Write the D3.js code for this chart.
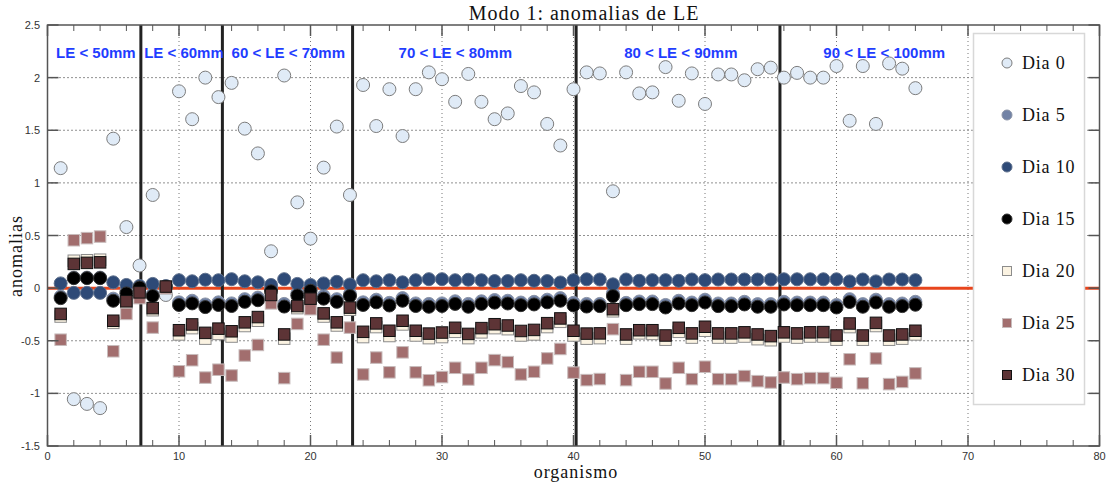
<!DOCTYPE html>
<html>
<head>
<meta charset="utf-8">
<script src="https://cdn.jsdelivr.net/npm/d3@7"></script>
<style>
  html, body { margin: 0; padding: 0; background: #fff; }
  svg { display: block; }
</style>
</head>
<body>
<svg id="chart" width="1107" height="486"></svg>
<script>
// Organism index 1..66
const organisms = d3.range(1, 67);

// Anomaly values per sampling day
const dia0 = [1.14, -1.055, -1.10, -1.14, 1.42, 0.58, 0.215, 0.885, -0.065, 1.87,
  1.605, 2.0, 1.815, 1.95, 1.515, 1.28, 0.35, 2.02, 0.815, 0.47,
  1.145, 1.535, 0.885, 1.93, 1.54, 1.89, 1.445, 1.89, 2.05, 1.985,
  1.77, 2.035, 1.77, 1.605, 1.66, 1.92, 1.86, 1.56, 1.355, 1.89,
  2.05, 2.04, 0.92, 2.05, 1.85, 1.86, 2.10, 1.78, 2.04, 1.75,
  2.03, 2.03, 1.975, 2.08, 2.095, 2.0, 2.045, 2.0, 2.0, 2.11,
  1.59, 2.11, 1.56, 2.135, 2.085, 1.90];

const dia5 = [-0.08, 0.10, 0.10, 0.10, -0.10, -0.03, 0.015, -0.06, 0.015, -0.135,
  -0.12, -0.155, -0.135, -0.145, -0.105, -0.09, -0.01, -0.15, -0.05, -0.01,
  -0.075, -0.105, -0.055, -0.135, -0.11, -0.14, -0.095, -0.145, -0.15, -0.145,
  -0.125, -0.15, -0.125, -0.113, -0.12, -0.137, -0.13, -0.11, -0.095, -0.14,
  -0.15, -0.15, -0.05, -0.14, -0.127, -0.127, -0.16, -0.12, -0.137, -0.11,
  -0.146, -0.146, -0.13, -0.152, -0.152, -0.13, -0.137, -0.137, -0.137, -0.16,
  -0.105, -0.152, -0.11, -0.152, -0.146, -0.13];

const dia10 = [0.045, -0.045, -0.045, -0.045, 0.055, 0.03, 0.02, 0.04, 0.02, 0.075,
  0.065, 0.08, 0.075, 0.085, 0.065, 0.055, 0.03, 0.085, 0.04, 0.03,
  0.045, 0.06, 0.035, 0.075, 0.065, 0.075, 0.055, 0.075, 0.085, 0.085,
  0.075, 0.08, 0.075, 0.067, 0.067, 0.075, 0.07, 0.067, 0.054, 0.076,
  0.084, 0.082, 0.036, 0.082, 0.07, 0.076, 0.076, 0.07, 0.082, 0.076,
  0.082, 0.082, 0.082, 0.082, 0.082, 0.084, 0.084, 0.084, 0.084, 0.084,
  0.064, 0.082, 0.064, 0.082, 0.082, 0.076];

const dia15 = [-0.095, 0.095, 0.095, 0.095, -0.12, -0.05, 0.005, -0.075, 0.01, -0.16,
  -0.145, -0.18, -0.16, -0.17, -0.13, -0.115, -0.03, -0.175, -0.07, -0.025,
  -0.10, -0.13, -0.075, -0.16, -0.135, -0.165, -0.12, -0.17, -0.177, -0.17,
  -0.15, -0.177, -0.15, -0.138, -0.146, -0.162, -0.155, -0.135, -0.12, -0.165,
  -0.175, -0.171, -0.076, -0.162, -0.152, -0.152, -0.184, -0.146, -0.162, -0.136,
  -0.171, -0.171, -0.155, -0.177, -0.177, -0.155, -0.162, -0.162, -0.162, -0.184,
  -0.132, -0.177, -0.136, -0.177, -0.171, -0.158];

const dia20 = [-0.27, 0.26, 0.265, 0.27, -0.33, -0.14, -0.05, -0.21, 0.0, -0.44,
  -0.38, -0.48, -0.435, -0.46, -0.36, -0.31, -0.09, -0.48, -0.19, -0.11,
  -0.27, -0.355, -0.205, -0.465, -0.37, -0.455, -0.345, -0.45, -0.475, -0.465,
  -0.415, -0.475, -0.42, -0.38, -0.39, -0.45, -0.44, -0.37, -0.32, -0.45,
  -0.48, -0.475, -0.22, -0.48, -0.43, -0.435, -0.49, -0.415, -0.47, -0.405,
  -0.47, -0.47, -0.46, -0.485, -0.495, -0.46, -0.47, -0.46, -0.46, -0.49,
  -0.37, -0.49, -0.36, -0.49, -0.48, -0.44];

const dia25 = [-0.49, 0.455, 0.475, 0.49, -0.60, -0.245, -0.095, -0.375, 0.0, -0.79,
  -0.685, -0.85, -0.775, -0.83, -0.64, -0.54, -0.145, -0.855, -0.34, -0.20,
  -0.49, -0.66, -0.375, -0.82, -0.66, -0.80, -0.61, -0.80, -0.875, -0.845,
  -0.757, -0.868, -0.757, -0.684, -0.703, -0.82, -0.795, -0.668, -0.578, -0.803,
  -0.874, -0.864, -0.39, -0.874, -0.795, -0.795, -0.906, -0.757, -0.865, -0.747,
  -0.865, -0.865, -0.836, -0.884, -0.896, -0.849, -0.865, -0.855, -0.855, -0.90,
  -0.676, -0.904, -0.668, -0.912, -0.891, -0.81];

const dia30 = [-0.245, 0.23, 0.24, 0.245, -0.31, -0.125, -0.04, -0.19, 0.015, -0.40,
  -0.345, -0.425, -0.385, -0.41, -0.325, -0.275, -0.065, -0.44, -0.17, -0.10,
  -0.24, -0.325, -0.185, -0.415, -0.335, -0.405, -0.31, -0.405, -0.432, -0.422,
  -0.377, -0.435, -0.38, -0.343, -0.355, -0.407, -0.397, -0.333, -0.288, -0.405,
  -0.432, -0.43, -0.20, -0.44, -0.40, -0.40, -0.45, -0.377, -0.43, -0.367,
  -0.43, -0.43, -0.42, -0.44, -0.456, -0.42, -0.43, -0.42, -0.418, -0.45,
  -0.336, -0.45, -0.33, -0.45, -0.44, -0.405];

const seriesNames = ["Dia 0", "Dia 5", "Dia 10", "Dia 15", "Dia 20", "Dia 25", "Dia 30"];
const seriesValues = [dia0, dia5, dia10, dia15, dia20, dia25, dia30];

// Length-class boundaries (organism index) and their labels
const boundaries = [7.1, 13.3, 23.2, 40.2, 55.7];
const classLabels = ["LE < 50mm", "LE < 60mm", "60 < LE < 70mm", "70 < LE < 80mm", "80 < LE < 90mm", "90 < LE < 100mm"];
const classLabelX = [0.65, 7.35, 14.0, 26.7, 43.85, 59.0];

// Axis ticks
const xTicks = [0, 10, 20, 30, 40, 50, 60, 70, 80];
const xMinorTicks = d3.range(0, 81, 2);
const yTicks = [-1.5, -1, -0.5, 0, 0.5, 1, 1.5, 2, 2.5];

// Marker styles per series
const styles = [
  { shape: "circle", fill: "#e0ebf7", stroke: "#7c7c7c" },
  { shape: "circle", fill: "#7283a6", stroke: "#8a93a6" },
  { shape: "circle", fill: "#2e4a77", stroke: "#5d6f8c" },
  { shape: "circle", fill: "#000000", stroke: "#333333" },
  { shape: "square", fill: "#fbf3e2", stroke: "#8c8c8c" },
  { shape: "square", fill: "#a26e6e", stroke: "#c8bcbc" },
  { shape: "square", fill: "#5d3436", stroke: "#111111" }
];

const svg = d3.select("#chart");
const plotL = 47.5, plotR = 1099.5, plotT = 25, plotB = 446;

const x = d3.scaleLinear().domain([0, 80]).range([plotL, plotR]);
const y = d3.scaleLinear().domain([-1.5, 2.5]).range([plotB, plotT]);

// Grid
const grid = svg.append("g");
grid.selectAll("line.h").data(yTicks.filter(v => v > -1.5 && v < 2.5))
  .join("line")
  .attr("x1", plotL).attr("x2", plotR)
  .attr("y1", d => y(d)).attr("y2", d => y(d))
  .attr("stroke", "#222").attr("stroke-width", 1)
  .attr("stroke-dasharray", "1,3");
grid.selectAll("line.v").data(xTicks.filter(v => v > 0 && v < 80))
  .join("line")
  .attr("x1", d => x(d)).attr("x2", d => x(d))
  .attr("y1", plotT).attr("y2", plotB)
  .attr("stroke", "#777").attr("stroke-width", 1)
  .attr("stroke-dasharray", "1,3");

// Zero reference line
svg.append("line")
  .attr("x1", plotL).attr("x2", plotR)
  .attr("y1", y(0)).attr("y2", y(0))
  .attr("stroke", "#e8451c").attr("stroke-width", 3);

// Length-class separators
svg.append("g").selectAll("line").data(boundaries)
  .join("line")
  .attr("x1", d => x(d)).attr("x2", d => x(d))
  .attr("y1", plotT).attr("y2", plotB)
  .attr("stroke", "#222").attr("stroke-width", 3);

// Markers
const r = 6.5, sq = 11.5;
seriesValues.forEach((vals, k) => {
  const st = styles[k];
  const g = svg.append("g");
  const pts = organisms.map((o, i) => ({ o, v: vals[i] }));
  if (st.shape === "circle") {
    g.selectAll("circle").data(pts).join("circle")
      .attr("cx", d => x(d.o)).attr("cy", d => y(d.v)).attr("r", r)
      .attr("fill", st.fill).attr("stroke", st.stroke).attr("stroke-width", 1);
  } else {
    g.selectAll("rect").data(pts).join("rect")
      .attr("x", d => x(d.o) - sq / 2).attr("y", d => y(d.v) - sq / 2)
      .attr("width", sq).attr("height", sq)
      .attr("fill", st.fill).attr("stroke", st.stroke).attr("stroke-width", 1);
  }
});

// Length-class labels
svg.append("g").selectAll("text").data(classLabels)
  .join("text")
  .attr("x", (d, i) => x(classLabelX[i]))
  .attr("y", y(2.185))
  .attr("font-family", "Liberation Sans, Arial, sans-serif")
  .attr("font-weight", "bold")
  .attr("font-size", 15)
  .attr("fill", "#1f3dff")
  .text(d => d);

// Frame and ticks
const axisColor = "#555";
svg.append("rect")
  .attr("x", plotL).attr("y", plotT)
  .attr("width", plotR - plotL).attr("height", plotB - plotT)
  .attr("fill", "none").attr("stroke", axisColor).attr("stroke-width", 1.5);

const ticks = svg.append("g").attr("stroke", axisColor);
xMinorTicks.forEach(v => {
  const len = v % 10 === 0 ? 11 : 6;
  const w = v % 10 === 0 ? 1.5 : 1;
  ticks.append("line").attr("x1", x(v)).attr("x2", x(v)).attr("y1", plotB).attr("y2", plotB - len).attr("stroke-width", w);
  ticks.append("line").attr("x1", x(v)).attr("x2", x(v)).attr("y1", plotT).attr("y2", plotT + len).attr("stroke-width", w);
});
yTicks.forEach(v => {
  ticks.append("line").attr("x1", plotL).attr("x2", plotL + 11).attr("y1", y(v)).attr("y2", y(v)).attr("stroke-width", 1.5);
  ticks.append("line").attr("x1", plotR).attr("x2", plotR - 11).attr("y1", y(v)).attr("y2", y(v)).attr("stroke-width", 1.5);
});

// Tick labels
svg.append("g").selectAll("text").data(xTicks)
  .join("text")
  .attr("x", d => x(d)).attr("y", 460)
  .attr("text-anchor", "middle")
  .attr("font-family", "Liberation Sans, Arial, sans-serif")
  .attr("font-size", 11).attr("fill", "#333")
  .text(d => d);
svg.append("g").selectAll("text").data(yTicks)
  .join("text")
  .attr("x", 40).attr("y", d => y(d) + 4)
  .attr("text-anchor", "end")
  .attr("font-family", "Liberation Sans, Arial, sans-serif")
  .attr("font-size", 11).attr("fill", "#333")
  .text(d => d);

// Legend
const lg = svg.append("g");
lg.append("rect")
  .attr("x", 973.5).attr("y", 33.5).attr("width", 111).attr("height", 371)
  .attr("fill", "#fff").attr("stroke", "#d8d8d8").attr("stroke-width", 1.5);
seriesNames.forEach((name, k) => {
  const st = styles[k];
  const cy = 63 + k * 52;
  if (st.shape === "circle") {
    lg.append("circle").attr("cx", 1007).attr("cy", cy).attr("r", 5)
      .attr("fill", st.fill).attr("stroke", st.stroke).attr("stroke-width", 1);
  } else {
    lg.append("rect").attr("x", 1007 - 4.5).attr("y", cy - 4.5).attr("width", 9).attr("height", 9)
      .attr("fill", st.fill).attr("stroke", st.stroke).attr("stroke-width", 1);
  }
  lg.append("text").attr("x", 1022).attr("y", cy + 6)
    .attr("font-family", "Liberation Serif, Times New Roman, serif")
    .attr("font-size", 18).attr("letter-spacing", 0.8).attr("fill", "#111")
    .text(name);
});

// Titles
svg.append("text")
  .attr("x", 584).attr("y", 20)
  .attr("text-anchor", "middle")
  .attr("font-family", "Liberation Serif, Times New Roman, serif")
  .attr("font-size", 20).attr("letter-spacing", 1).attr("fill", "#111")
  .text("Modo 1:  anomalias de LE");
svg.append("text")
  .attr("x", 576).attr("y", 478)
  .attr("text-anchor", "middle")
  .attr("font-family", "Liberation Serif, Times New Roman, serif")
  .attr("font-size", 18).attr("letter-spacing", 1).attr("fill", "#111")
  .text("organismo");
svg.append("text")
  .attr("transform", "translate(22,256) rotate(-90)")
  .attr("text-anchor", "middle")
  .attr("font-family", "Liberation Serif, Times New Roman, serif")
  .attr("font-size", 18).attr("letter-spacing", 1).attr("fill", "#111")
  .text("anomalias");
</script>
</body>
</html>
